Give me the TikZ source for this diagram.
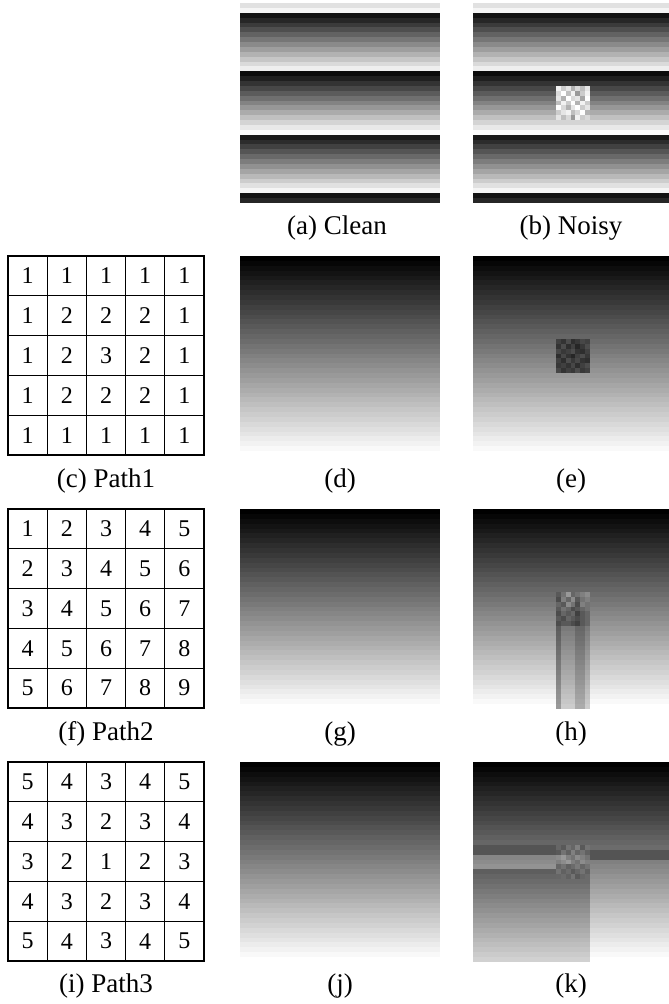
\documentclass[tikz,border=0pt]{standalone}
\usepackage{fontspec}
\setmainfont{Liberation Serif}

\begin{document}
\begin{tikzpicture}[
    x=1pt, y=-1pt,
    cell/.style={draw, line width=1.3pt, minimum width=39.2pt, minimum height=39.8pt, inner sep=0pt, font=\fontsize{24}{28}\selectfont},
    caption/.style={anchor=base, inner sep=0pt, font=\fontsize{27}{32}\selectfont}
]
\useasboundingbox (0,0) rectangle (669,1004);
\def\px{4.878}

% (a), (b): striped images
\foreach \x in {240,473} {
    \foreach \r in {0,...,40} {
        \pgfmathsetmacro\g{3+97*mod(\r+10.833,12.333)/12.333}
        \fill[white!\g!black] (\x,{3+\r*\px}) rectangle ++(200,\px+0.4);
    }
}
% noise in (b)
\foreach \row [count=\i from 17] in {{95,80,90,70,85,75,90},{85,100,75,95,60,80,95},{90,70,100,85,90,65,100},{75,95,80,100,70,95,80},{100,85,70,90,100,80,90},{80,90,95,75,85,100,70},{90,75,85,60,95,80,85}} {
    \foreach \v [count=\j from 17] in \row {
        \fill[white!\v!black] ({473+\j*\px},{3+\i*\px}) rectangle ++(\px+0.4,\px+0.4);
    }
}

% (d) ... (k): vertical gradients
\foreach \x/\y in {240/256,473/256,240/509,473/509,240/762,473/762} {
    \foreach \r in {0,...,40} {
        \pgfmathsetmacro\g{100*\r/40}
        \fill[white!\g!black] (\x,{\y+\r*\px}) rectangle ++(200,\px+0.4);
    }
}

% (e): dark noise
\foreach \row [count=\i from 17] in {{25,20,30,18,22,28,25},{20,30,18,25,15,22,30},{28,22,25,30,20,18,25},{18,28,20,15,25,30,22},{25,18,30,22,28,20,18},{22,25,20,28,18,25,30},{28,20,25,22,30,22,25}} {
    \foreach \v [count=\j from 17] in \row {
        \fill[white!\v!black] ({473+\j*\px},{256+\i*\px}) rectangle ++(\px+0.4,\px+0.4);
    }
}

% (h): noise and the columns below it
\foreach \c/\k in {17/0.6,18/0.8,19/0.8,20/0.8,21/0.67,22/0.67,23/0.8} {
    \foreach \r in {24,...,40} {
        \pgfmathsetmacro\g{\k*100*\r/40}
        \fill[white!\g!black] ({473+\c*\px},{509+\r*\px}) rectangle ++(\px+0.4,\px+0.4);
    }
}
\foreach \row [count=\i from 17] in {{35,45,60,40,45,50,55},{30,50,40,55,35,45,50},{40,35,55,45,30,50,45},{35,45,40,30,35,40,45},{30,40,35,40,25,35,40},{35,30,40,35,30,35,40},{30,35,35,30,25,35,40}} {
    \foreach \v [count=\j from 17] in \row {
        \fill[white!\v!black] ({473+\j*\px},{509+\i*\px}) rectangle ++(\px+0.4,\px+0.4);
    }
}

% (k): bands, darker lower left and noise
\fill[white!33!black] (473,{762+17*\px}) rectangle ({473+17*\px},{762+19*\px});
\fill[white!33!black] ({473+24*\px},{762+18*\px}) rectangle (673,{762+20*\px});
\foreach \r in {19,20,21} {
    \pgfmathsetmacro\g{100*\r/40+5}
    \fill[white!\g!black] (473,{762+\r*\px}) rectangle ({473+17*\px},{762+(\r+1)*\px+0.4});
}
\foreach \r in {22,...,40} {
    \pgfmathsetmacro\g{100*\r/40-18}
    \pgfmathsetmacro\w{\r<24 ? 17 : 24}
    \fill[white!\g!black] (473,{762+\r*\px}) rectangle ({473+\w*\px},{762+(\r+1)*\px+0.4});
}
\foreach \row [count=\i from 17] in {{40,35,45,40,50,35,45},{35,45,38,50,40,45,38},{55,60,50,45,55,50,45},{50,55,60,50,45,55,50},{40,45,38,42,48,40,45},{45,38,42,35,40,45,38},{40,42,38,45,35,40,42}} {
    \foreach \v [count=\j from 17] in \row {
        \fill[white!\v!black] ({473+\j*\px},{762+\i*\px}) rectangle ++(\px+0.4,\px+0.4);
    }
}

% path grids
\foreach \row [count=\r] in {{1,1,1,1,1},{1,2,2,2,1},{1,2,3,2,1},{1,2,2,2,1},{1,1,1,1,1}} {
    \foreach \v [count=\c] in \row {
        \node[cell] (pa\r\c) at ({8+39.2*(\c-0.5)},{256+39.8*(\r-0.5)}) {\v};
    }
}
\foreach \row [count=\r] in {{1,2,3,4,5},{2,3,4,5,6},{3,4,5,6,7},{4,5,6,7,8},{5,6,7,8,9}} {
    \foreach \v [count=\c] in \row {
        \node[cell] (pb\r\c) at ({8+39.2*(\c-0.5)},{509+39.8*(\r-0.5)}) {\v};
    }
}
\foreach \row [count=\r] in {{5,4,3,4,5},{4,3,2,3,4},{3,2,1,2,3},{4,3,2,3,4},{5,4,3,4,5}} {
    \foreach \v [count=\c] in \row {
        \node[cell] (pc\r\c) at ({8+39.2*(\c-0.5)},{762+39.8*(\r-0.5)}) {\v};
    }
}

% captions
\node[caption] (capa) at (337,234) {(a) Clean};
\node[caption] (capb) at (571,234) {(b) Noisy};
\node[caption] (capc) at (106,487) {(c) Path1};
\node[caption] (capd) at (340,487) {(d)};
\node[caption] (cape) at (571,487) {(e)};
\node[caption] (capf) at (106,740) {(f) Path2};
\node[caption] (capg) at (340,740) {(g)};
\node[caption] (caph) at (571,740) {(h)};
\node[caption] (capi) at (106,992) {(i) Path3};
\node[caption] (capj) at (340,992) {(j)};
\node[caption] (capk) at (571,992) {(k)};

\end{tikzpicture}
\end{document}
